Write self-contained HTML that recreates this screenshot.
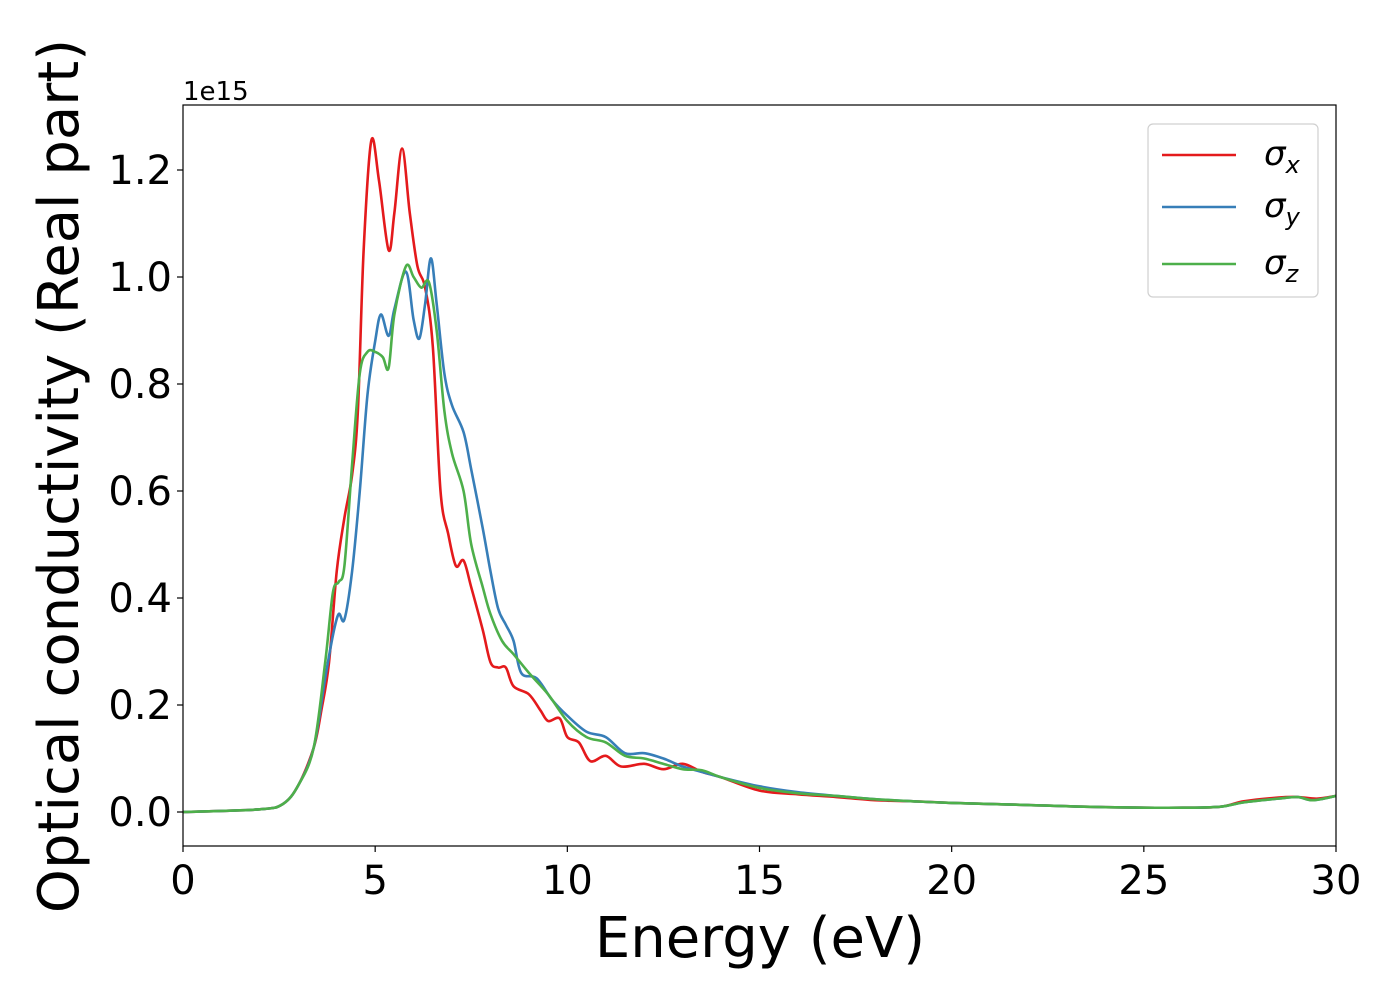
<!DOCTYPE html>
<html><head><meta charset="utf-8"><style>
body{margin:0;background:#fff;}
svg text{font-family:"DejaVu Sans","Liberation Sans",sans-serif;fill:#000;}
</style></head><body>
<svg width="1400" height="1000" xmlns="http://www.w3.org/2000/svg">
<g id="chart"></g>
</svg>
<script>
const energyX=[0,2,2.6,3,3.4,3.6,3.8,4.0,4.2,4.4,4.55,4.7,4.9,5.1,5.35,5.5,5.7,5.9,6.1,6.3,6.5,6.7,6.9,7.1,7.3,7.5,7.8,8.0,8.2,8.4,8.6,9,9.3,9.5,9.8,10,10.3,10.6,11,11.4,12,12.5,13,13.5,14,15,16,17,18,19,20,22,24,26,27,27.6,28.5,29,29.5,30];
const sigmaX=[0,0.005,0.015,0.05,0.12,0.19,0.28,0.45,0.55,0.63,0.75,1.05,1.255,1.18,1.05,1.12,1.24,1.12,1.02,0.98,0.87,0.6,0.52,0.46,0.47,0.42,0.34,0.28,0.27,0.27,0.235,0.22,0.19,0.17,0.175,0.14,0.13,0.095,0.105,0.085,0.09,0.08,0.09,0.075,0.065,0.04,0.033,0.028,0.022,0.02,0.017,0.013,0.009,0.008,0.01,0.02,0.027,0.028,0.025,0.03];
const energyY=[0,2,2.6,3,3.4,3.7,3.9,4.05,4.2,4.4,4.6,4.8,5.0,5.15,5.35,5.5,5.8,6.0,6.15,6.3,6.45,6.6,6.8,7.0,7.3,7.5,7.8,8.0,8.2,8.4,8.6,8.8,9.2,9.6,10,10.5,11,11.5,12,12.5,13,13.5,14,15,16,17,18,19,20,22,24,26,27,27.6,28.5,29,29.4,30];
const sigmaY=[0,0.005,0.015,0.05,0.12,0.25,0.33,0.37,0.36,0.45,0.6,0.78,0.88,0.93,0.89,0.94,1.01,0.92,0.885,0.95,1.035,0.95,0.82,0.76,0.71,0.64,0.53,0.45,0.38,0.35,0.32,0.26,0.25,0.21,0.18,0.15,0.14,0.11,0.11,0.1,0.085,0.075,0.065,0.048,0.037,0.03,0.024,0.02,0.017,0.013,0.009,0.008,0.01,0.018,0.025,0.028,0.022,0.03];
const energyZ=[0,2,2.6,3,3.4,3.7,3.9,4.05,4.2,4.4,4.6,4.8,5.0,5.2,5.35,5.5,5.8,6.0,6.2,6.4,6.6,6.8,7.0,7.3,7.5,7.8,8.0,8.3,8.6,9,9.5,10,10.5,11,11.5,12,12.5,13,13.5,14,15,16,17,18,19,20,22,24,26,27,27.6,28.5,29,29.4,30];
const sigmaZ=[0,0.005,0.015,0.05,0.12,0.28,0.41,0.43,0.46,0.65,0.82,0.86,0.86,0.85,0.83,0.93,1.02,1.0,0.98,0.99,0.9,0.75,0.67,0.6,0.5,0.42,0.37,0.32,0.295,0.26,0.22,0.17,0.14,0.13,0.105,0.1,0.09,0.08,0.078,0.065,0.045,0.035,0.03,0.024,0.02,0.017,0.013,0.009,0.008,0.01,0.018,0.025,0.028,0.022,0.03];
const xTicks=[0,5,10,15,20,25,30];
const yTicks=[0,0.2,0.4,0.6,0.8,1.0,1.2];
const yTickLabels=["0.0","0.2","0.4","0.6","0.8","1.0","1.2"];

const X0=183,X1=1336,Y0=105,Y1=846;
const sx=v=>X0+(v-0)/30*(X1-X0);
const sy=v=>812-v/0.2*107;
const NS="http://www.w3.org/2000/svg";
const g=document.getElementById('chart');
function mk(t,a,p){const e=document.createElementNS(NS,t);for(const k in a)e.setAttribute(k,a[k]);(p||g).appendChild(e);return e;}
function path(xs,ys){const P=xs.map((x,i)=>[sx(x),sy(ys[i])]);let d='M'+P[0][0]+','+P[0][1];
for(let i=0;i<P.length-1;i++){const p0=P[Math.max(0,i-1)],p1=P[i],p2=P[i+1],p3=P[Math.min(P.length-1,i+2)];
const c1=[p1[0]+(p2[0]-p0[0])/6,p1[1]+(p2[1]-p0[1])/6],c2=[p2[0]-(p3[0]-p1[0])/6,p2[1]-(p3[1]-p1[1])/6];
d+=`C${c1[0]},${c1[1]} ${c2[0]},${c2[1]} ${p2[0]},${p2[1]}`;}return d;}
const clip=mk('clipPath',{id:'pc'});mk('rect',{x:X0,y:Y0,width:X1-X0,height:Y1-Y0},clip);
const series=[[energyX,sigmaX,'#e41a1c','series-sigma-x'],[energyY,sigmaY,'#377eb8','series-sigma-y'],[energyZ,sigmaZ,'#4daf4a','series-sigma-z']];
series.forEach(s=>{const e=mk('path',{d:path(s[0],s[1]),fill:'none',stroke:s[2],'stroke-width':2.6,'clip-path':'url(#pc)'});

});
const fr=mk('rect',{x:X0,y:Y0,width:X1-X0,height:Y1-Y0,fill:'none',stroke:'#000','stroke-width':1.2});


xTicks.forEach(t=>{mk('line',{x1:sx(t),x2:sx(t),y1:Y1,y2:Y1+6,stroke:'#000','stroke-width':1.2});
const e=mk('text',{x:sx(t),y:894,'font-size':40,'text-anchor':'middle'});e.textContent=t;

});
yTicks.forEach((t,i)=>{mk('line',{x1:X0-6,x2:X0,y1:sy(t),y2:sy(t),stroke:'#000','stroke-width':1.2});
const e=mk('text',{x:172,y:sy(t)+14,'font-size':40,'text-anchor':'end'});e.textContent=yTickLabels[i];

});
let e=mk('text',{x:183,y:100,'font-size':26});e.textContent='1e15';


e=mk('text',{x:760,y:957,'font-size':56,'text-anchor':'middle'});e.textContent='Energy (eV)';


e=mk('text',{x:0,y:0,'font-size':56,'text-anchor':'middle',transform:'translate(78,476) rotate(-90)'});e.textContent='Optical conductivity (Real part)';


const lg=mk('g',{});


mk('rect',{x:1148,y:124,width:170,height:173,rx:5,fill:'#fff',stroke:'#ccc','stroke-width':1.2,opacity:0.9},lg);
const labs=['x','y','z'],ly=[155,207,264];
series.forEach((s,i)=>{mk('line',{x1:1162,x2:1236,y1:ly[i],y2:ly[i],stroke:s[2],'stroke-width':2.6},lg);
const t=mk('text',{x:1264,y:ly[i]+10,'font-size':34,'font-style':'italic'},lg);t.textContent='σ';
const sb=mk('tspan',{'font-size':24,dy:8},t);sb.textContent=labs[i];

});
</script>
</body></html>
